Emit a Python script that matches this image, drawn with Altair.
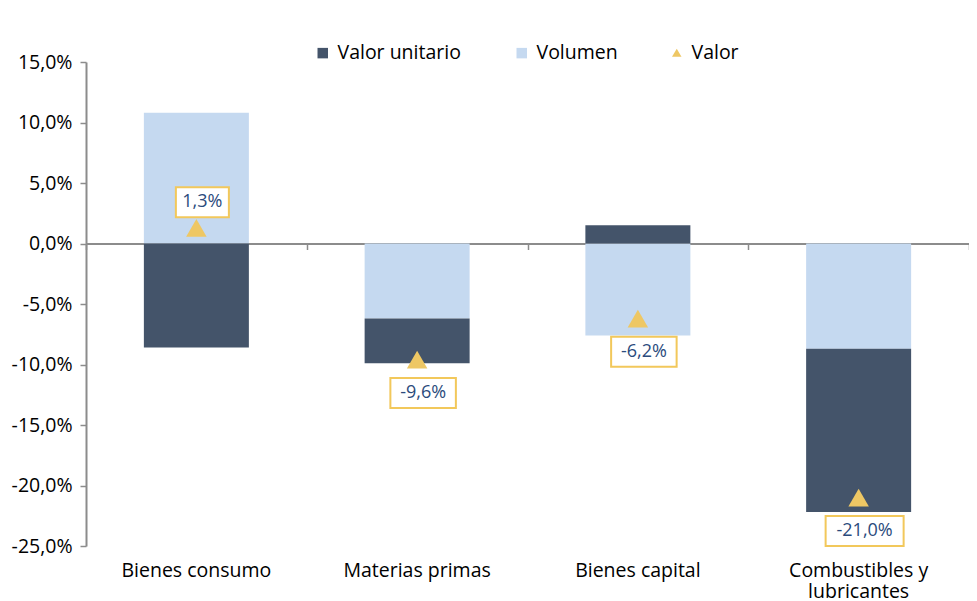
import altair as alt
import pandas as pd

categorias = ["Bienes consumo", "Materias primas", "Bienes capital", "Combustibles y lubricantes"]
valor_unitario = [-8.6, -3.7, 1.5, -13.5]
volumen = [10.8, -6.2, -7.6, -8.7]
valor = [1.3, -9.6, -6.2, -21.0]
etiquetas = ["1,3%", "-9,6%", "-6,2%", "-21,0%"]
series_barras = ["Valor unitario", "Volumen"]
colores_barras = ["#44546A", "#C5D9F0"]
serie_punto = ["Valor"]
color_punto = ["#EEC764"]

FONT = "Open Sans"
FS = 19.5

rows = []
for c, vu, vo in zip(categorias, valor_unitario, volumen):
    rows.append({"cat": c, "serie": "Volumen", "v": vo, "orden": 0})
    rows.append({"cat": c, "serie": "Valor unitario", "v": vu, "orden": 1})
bars_df = pd.DataFrame(rows)
pts_df = pd.DataFrame({"cat": categorias, "v": valor, "lab": etiquetas, "serie": "Valor"})

yscale = alt.Scale(domain=[-25, 15], nice=False, zero=False)
ylab = "replace(replace(format(datum.value, '.1f'), '.', ','), '\u2212', '-') + '%'"

x_labels = alt.X(
    "cat:N", sort=categorias, title=None,
    scale=alt.Scale(paddingInner=0, paddingOuter=0),
    axis=alt.Axis(orient="bottom", domain=False, ticks=False, labelAngle=0, labelPadding=15,
                  labelFontSize=FS, labelFont=FONT, labelColor="#000000",
                  labelLineHeight=21,
                  labelExpr="datum.value == 'Combustibles y lubricantes' ? ['Combustibles y', 'lubricantes'] : datum.value"),
)

bars = alt.Chart(bars_df).mark_bar(size=105).encode(
    x=x_labels,
    y=alt.Y("v:Q", scale=yscale, title=None, stack="zero",
            axis=alt.Axis(values=[-25, -20, -15, -10, -5, 0, 5, 10, 15], grid=False,
                          labelExpr=ylab, labelFontSize=FS, labelFont=FONT,
                          labelColor="#000000", domainColor="#8C8C8C", domainWidth=2,
                          tickColor="#8C8C8C", tickWidth=1.5, tickSize=6, labelPadding=8)),
    color=alt.Color("serie:N", scale=alt.Scale(domain=series_barras, range=colores_barras), title=None,
                    legend=alt.Legend(orient="none", direction="horizontal",
                                      legendX=227, legendY=-19, symbolType="square",
                                      labelFontSize=FS, labelFont=FONT, labelColor="#000000",
                                      symbolSize=110, columnPadding=51, labelOffset=5,
                                      symbolStrokeWidth=0)),
    order=alt.Order("orden:Q"),
)

zero_axis = alt.Chart(bars_df).mark_rule(opacity=0).encode(
    x=alt.X("cat:N", sort=categorias, title=None,
            axis=alt.Axis(orient="bottom", labels=False, domainColor="#8C8C8C", domainWidth=2,
                          tickColor="#8C8C8C", tickWidth=1.5, tickSize=6,
                          tickBand="extent", offset=-302.5)),
)

tri = alt.Chart(pts_df).mark_point(filled=True, size=420, opacity=1).encode(
    x=alt.X("cat:N", sort=categorias, axis=None),
    y=alt.Y("v:Q", scale=yscale),
    color=alt.Color("serie:N", scale=alt.Scale(domain=serie_punto, range=color_punto), title=None,
                    legend=alt.Legend(orient="none", legendX=581, legendY=-19,
                                      labelFontSize=FS, labelFont=FONT, labelColor="#000000",
                                      symbolSize=90, labelOffset=5, symbolStrokeWidth=0)),
    shape=alt.Shape("serie:N", scale=alt.Scale(domain=serie_punto, range=["triangle-up"]), title=None,
                    legend=alt.Legend(orient="none", legendX=581, legendY=-19,
                                      labelFontSize=FS, labelFont=FONT, labelColor="#000000",
                                      symbolSize=90, labelOffset=5, symbolStrokeWidth=0)),
)

box_base = alt.Chart(pts_df).transform_calculate(
    ly="datum.v > 0 ? datum.v + 2.1 : datum.v - 2.75",
    hw="(12.5 * length(datum.lab) + 3) / 80",
).transform_calculate(
    path="'M' + (-datum.hw) + ',-0.375L' + datum.hw + ',-0.375L' + datum.hw + ',0.375L' + (-datum.hw) + ',0.375Z'"
)

boxes = box_base.mark_point(filled=False, size=6400, stroke="#F2C85B", strokeWidth=2,
                            fill="#FFFFFF", fillOpacity=1, opacity=1, xOffset=6).encode(
    x=alt.X("cat:N", sort=categorias, axis=None),
    y=alt.Y("ly:Q", scale=yscale),
    shape=alt.Shape("path:N", scale=None, legend=None),
)

texts = box_base.mark_text(fontSize=18, font=FONT, color="#2B4B7C", xOffset=6).encode(
    x=alt.X("cat:N", sort=categorias, axis=None),
    y=alt.Y("ly:Q", scale=yscale),
    text="lab:N",
)

chart = alt.layer(bars, zero_axis, tri, boxes, texts).resolve_axis(x="independent").resolve_scale(
    color="independent", shape="independent"
).properties(
    width=883, height=484,
    autosize=alt.AutoSizeParams(type="none"),
    padding={"left": 78, "top": 54, "right": 0, "bottom": 56},
    background="#FFFFFF",
).configure_view(stroke=None)

chart.save("out.html", embed_options={"renderer": "svg", "actions": False})
